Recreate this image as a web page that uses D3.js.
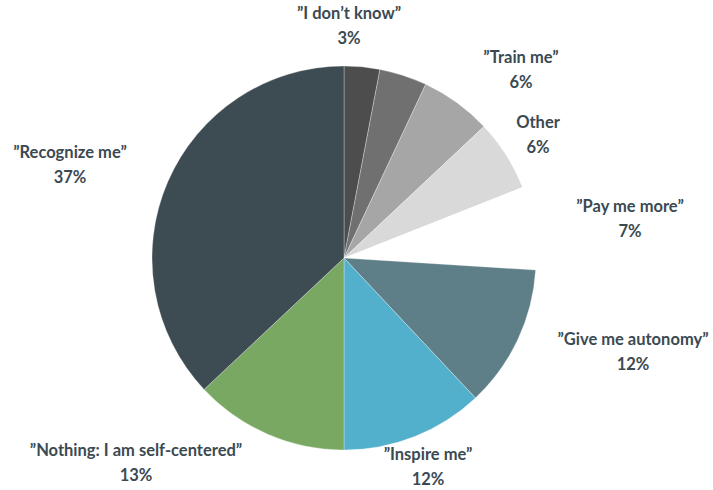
<!DOCTYPE html>
<html>
<head>
<meta charset="utf-8">
<script src="https://cdn.jsdelivr.net/npm/d3@7"></script>
<style>
  body { margin: 0; background: #fff; }
</style>
</head>
<body>
<div id="pie-chart"></div>
<script>
const categories = ['”I don’t know”', '', '”Train me”', 'Other', '”Pay me more”', '”Give me autonomy”', '”Inspire me”', '”Nothing: I am self-centered”', '”Recognize me”'];
const values = [3, 4, 6, 6, 7, 12, 12, 13, 37];
const colors = ['#4d4d4d', '#707070', '#a6a6a6', '#d9d9d9', '#ffffff', '#5e7f87', '#52b0cc', '#78a862', '#3d4c53'];
// label anchors (center x, baseline of name)
const labelPos = [[349, 19], null, [521, 63], [538, 128], [630, 212], [633, 345], [428, 460], [136, 456], [70, 158]];

const width = 713;
const height = 490;
const cx = 344, cy = 258, radius = 192;

const svg = d3.select('#pie-chart')
  .append('svg')
  .attr('width', width)
  .attr('height', height);

const pie = d3.pie().sort(null).value(d => d);
const arc = d3.arc().innerRadius(0).outerRadius(radius);

const g = svg.append('g')
  .attr('transform', `translate(${cx},${cy})`);

g.selectAll('path')
  .data(pie(values))
  .enter()
  .append('path')
  .attr('d', arc)
  .attr('fill', (d, i) => colors[i])
  .attr('stroke', (d, i) => i === 4 ? 'none' : 'rgba(255,255,255,0.5)')
  .attr('stroke-width', 0.6);

// labels
const labels = svg.append('g')
  .attr('font-family', 'Lato, sans-serif')
  .attr('font-weight', 'bold')
  .attr('font-size', '16.5px')
  .attr('fill', '#3b4a52')
  .attr('text-anchor', 'middle');

categories.forEach((c, i) => {
  const p = labelPos[i];
  if (!p || !c) return;
  labels.append('text')
    .attr('x', p[0])
    .attr('y', p[1])
    .text(c);
  labels.append('text')
    .attr('x', p[0])
    .attr('y', p[1] + 25)
    .text(values[i] + '%');
});
</script>
</body>
</html>
